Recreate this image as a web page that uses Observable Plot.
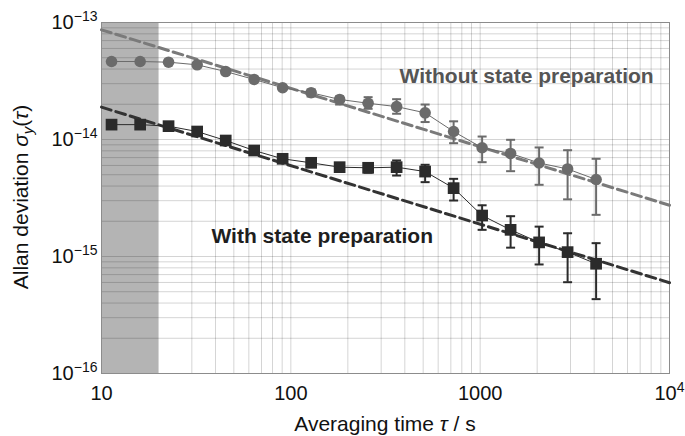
<!DOCTYPE html>
<html><head><meta charset="utf-8">
<script src="https://cdn.jsdelivr.net/npm/d3@7"></script>
<script src="https://cdn.jsdelivr.net/npm/@observablehq/plot@0.6"></script>
<style>
body{margin:0;background:#fff;}
#chart svg{display:block;}
</style></head><body><div id="chart"></div>
<script>
// averaging times (s)
const tau = [11.3, 16, 22.6, 32, 45.3, 64, 90.5, 128, 181, 256, 362, 512, 724, 1024, 1448, 2048, 2896, 4096];
// without state preparation (circles)
const withoutPrep = [4.64e-14, 4.64e-14, 4.58e-14, 4.35e-14, 3.81e-14, 3.26e-14, 2.77e-14, 2.51e-14, 2.20e-14, 2.04e-14, 1.91e-14, 1.69e-14, 1.17e-14, 8.5e-15, 7.6e-15, 6.3e-15, 5.6e-15, 4.55e-15];
const withoutLo = [null, null, null, null, null, null, null, 2.33e-14, 1.99e-14, 1.83e-14, 1.66e-14, 1.41e-14, 9.3e-15, 6.4e-15, 5.36e-15, 4.10e-15, 3.08e-15, 2.27e-15];
const withoutHi = [null, null, null, null, null, null, null, 2.68e-14, 2.33e-14, 2.30e-14, 2.21e-14, 1.99e-14, 1.43e-14, 1.06e-14, 9.94e-15, 8.55e-15, 8.10e-15, 6.84e-15];
// with state preparation (squares)
const withPrep = [1.34e-14, 1.34e-14, 1.30e-14, 1.17e-14, 9.8e-15, 8.05e-15, 6.84e-15, 6.32e-15, 5.80e-15, 5.73e-15, 5.80e-15, 5.32e-15, 3.84e-15, 2.24e-15, 1.69e-15, 1.32e-15, 1.09e-15, 8.67e-16];
const withLo = [null, null, null, null, null, null, null, null, 5.6e-15, 5.2e-15, 4.92e-15, 4.32e-15, 3.01e-15, 1.69e-15, 1.19e-15, 8.55e-16, 6.03e-16, 4.32e-16];
const withHi = [null, null, null, null, null, null, null, null, 6.0e-15, 6.3e-15, 6.62e-15, 6.08e-15, 4.61e-15, 2.74e-15, 2.21e-15, 1.80e-15, 1.58e-15, 1.30e-15];
// tau^-1/2 fit lines
const fitTau = [10, 10000];
const fitWithout = [8.66e-14, 2.74e-15];
const fitWith = [1.89e-14, 5.97e-16];
// shaded region
const shadeTau = [10, 20];
// ticks
const xTicks = [10, 100, 1000, 10000];
const xTickLabels = ["10", "100", "1000", "10^4"];
const yTicks = [1e-16, 1e-15, 1e-14, 1e-13];
const yTickLabels = ["10^\u221216", "10^\u221215", "10^\u221214", "10^\u221213"];
const seriesLabels = ["Without state preparation", "With state preparation"];

const FONT = '"Liberation Sans", Arial, Helvetica, sans-serif';
const cWithout = "#6b6b6b", cWithout2 = "#7a7a7a";
const cWith = "#2b2b2b", cWith2 = "#333333";

const rows = tau.map((t, i) => ({tau: t, wo: withoutPrep[i], woLo: withoutLo[i], woHi: withoutHi[i], w: withPrep[i], wLo: withLo[i], wHi: withHi[i]}));
const errWo = rows.filter(d => d.woLo != null);
const errW = rows.filter(d => d.wLo != null);
const fits = fitTau.map((t, i) => ({tau: t, wo: fitWithout[i], w: fitWith[i]}));

const cap = {draw(ctx, size) { const r = Math.sqrt(size / Math.PI); ctx.moveTo(-r, 0); ctx.lineTo(r, 0); }};
const nearest = (arr, d) => { let b = 0; arr.forEach((v, i) => { if (Math.abs(Math.log10(v) - Math.log10(d)) < Math.abs(Math.log10(arr[b]) - Math.log10(d))) b = i; }); return b; };

const chart = Plot.plot({
  width: 685, height: 436,
  marginLeft: 101, marginRight: 16, marginTop: 22, marginBottom: 63,
  style: {fontFamily: FONT, fontSize: "20px", color: "#111", background: "#fff"},
  x: {type: "log", domain: [10, 1e4]},
  y: {type: "log", domain: [1e-16, 1e-13]},
  marks: [
    Plot.rect([{x1: shadeTau[0], x2: shadeTau[1]}], {x1: "x1", x2: "x2", fill: "#b4b4b4"}),
    Plot.gridX({ticks: 10, stroke: "#000", strokeOpacity: 0.17, strokeWidth: 1}),
    Plot.gridY({ticks: 10, stroke: "#000", strokeOpacity: 0.17, strokeWidth: 1}),
    Plot.frame({stroke: "#8c8c8c", strokeWidth: 1}),
    Plot.line(fits, {x: "tau", y: "wo", stroke: cWithout2, strokeWidth: 3, strokeDasharray: "10,5"}),
    Plot.line(fits, {x: "tau", y: "w", stroke: cWith2, strokeWidth: 3, strokeDasharray: "10,5"}),
    Plot.line(rows, {x: "tau", y: "wo", stroke: cWithout, strokeWidth: 1}),
    Plot.line(rows, {x: "tau", y: "w", stroke: cWith, strokeWidth: 1}),
    Plot.ruleX(errWo, {x: "tau", y1: "woLo", y2: "woHi", stroke: cWithout, strokeWidth: 2}),
    Plot.dot(errWo, {x: "tau", y: "woLo", symbol: cap, r: 4.5, fill: "none", stroke: cWithout, strokeWidth: 2}),
    Plot.dot(errWo, {x: "tau", y: "woHi", symbol: cap, r: 4.5, fill: "none", stroke: cWithout, strokeWidth: 2}),
    Plot.ruleX(errW, {x: "tau", y1: "wLo", y2: "wHi", stroke: cWith, strokeWidth: 2}),
    Plot.dot(errW, {x: "tau", y: "wLo", symbol: cap, r: 4.5, fill: "none", stroke: cWith, strokeWidth: 2}),
    Plot.dot(errW, {x: "tau", y: "wHi", symbol: cap, r: 4.5, fill: "none", stroke: cWith, strokeWidth: 2}),
    Plot.dot(rows, {x: "tau", y: "wo", symbol: "circle", r: 5.8, fill: cWithout, stroke: "none"}),
    Plot.dot(rows, {x: "tau", y: "w", symbol: "square", r: 6.6, fill: cWith, stroke: "none"}),
    Plot.text([seriesLabels[0]], {x: 375, y: 3.45e-14, text: d => d, textAnchor: "start", lineAnchor: "middle", fontSize: 21, fontWeight: "bold", fill: "#555"}),
    Plot.text([seriesLabels[1]], {x: 38.1, y: 1.48e-15, text: d => d, textAnchor: "start", lineAnchor: "middle", fontSize: 21, fontWeight: "bold", fill: "#1e1e1e"}),
    Plot.axisX({ticks: xTicks, tickFormat: d => xTickLabels[nearest(xTicks, d)], tickSize: 0, tickPadding: 12, label: null, fontSize: 20, fill: "#111"}),
    Plot.axisY({ticks: yTicks, tickFormat: d => yTickLabels[nearest(yTicks, d)], tickSize: 0, tickPadding: 4, label: null, fontSize: 20, fill: "#111"})
  ]
});
document.getElementById("chart").appendChild(chart);

const svg = d3.select(chart);
// superscripts in tick labels
svg.selectAll("text").each(function() {
  if (this.querySelector("tspan")) return;
  const s = this.textContent;
  if (!s.includes("^")) return;
  const [base, exp] = s.split("^");
  const t = d3.select(this);
  t.text(null);
  t.append("tspan").text(base);
  t.append("tspan").attr("font-size", "14px").attr("dy", "-8").text(exp);
});
// axis titles
const xt = svg.append("text").attr("x", 385).attr("y", 431).attr("text-anchor", "middle")
  .attr("font-family", FONT).attr("font-size", "21px").attr("fill", "#111");
xt.append("tspan").text("Averaging time ");
xt.append("tspan").attr("font-style", "italic").text("\u03C4");
xt.append("tspan").text(" / s");

const yt = svg.append("text").attr("transform", "translate(28,197) rotate(-90)").attr("text-anchor", "middle")
  .attr("font-family", FONT).attr("font-size", "21px").attr("fill", "#111");
yt.append("tspan").text("Allan deviation ");
yt.append("tspan").attr("font-style", "italic").text("\u03C3");
yt.append("tspan").attr("font-style", "italic").attr("font-size", "15px").attr("dy", "5").text("y");
yt.append("tspan").attr("dy", "-5").text("(");
yt.append("tspan").attr("font-style", "italic").text("\u03C4");
yt.append("tspan").text(")");
</script></body></html>
